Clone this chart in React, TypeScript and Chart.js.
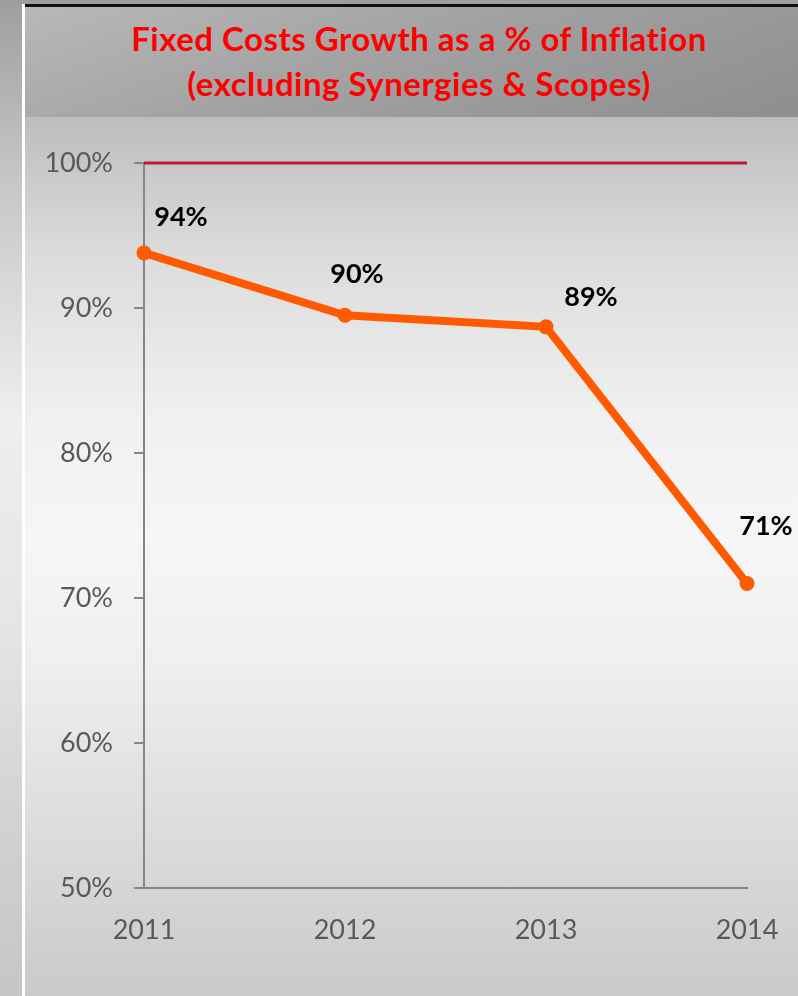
import React, { useEffect, useRef } from "react";
import { Chart, registerables } from "chart.js";

Chart.register(...registerables);

const titleLines = ["Fixed Costs Growth as a % of Inflation", "(excluding Synergies & Scopes)"];
const years = ["2011", "2012", "2013", "2014"];
const fixedCostsPct = [93.8, 89.5, 88.7, 71.0];
const inflationPct = [100, 100, 100, 100];
const pointLabels = ["94%", "90%", "89%", "71%"];
const labelOffsets = [
  [37, -36],
  [12, -41],
  [45, -30],
  [19, -57],
];
const yTicks = [50, 60, 70, 80, 90, 100];

const FONT = "Lato, 'Open Sans', sans-serif";

const pointLabelPlugin = {
  id: "pointLabels",
  afterDatasetsDraw(chart: any) {
    const meta = chart.getDatasetMeta(0);
    const ctx = chart.ctx;
    ctx.save();
    ctx.font = `bold 27px ${FONT}`;
    ctx.fillStyle = "#000000";
    ctx.textAlign = "center";
    ctx.textBaseline = "middle";
    meta.data.forEach((pt: any, i: number) => {
      const [dx, dy] = labelOffsets[i];
      ctx.fillText(pointLabels[i], pt.x + dx, pt.y + dy);
    });
    ctx.restore();
  },
};

export default function App() {
  const canvasRef = useRef<HTMLCanvasElement | null>(null);

  useEffect(() => {
    if (!canvasRef.current) return;
    const chart = new Chart(canvasRef.current, {
      type: "line",
      data: {
        labels: years,
        datasets: [
          {
            label: "Fixed Costs Growth",
            data: fixedCostsPct,
            borderColor: "#FF5A00",
            backgroundColor: "#FF5A00",
            borderWidth: 8,
            pointRadius: 7.5,
            pointBackgroundColor: "#FF5A00",
            pointBorderWidth: 0,
            tension: 0,
            clip: false as any,
            order: 1,
          },
          {
            label: "Inflation",
            data: inflationPct,
            borderColor: "#C8143C",
            borderWidth: 3,
            pointRadius: 0,
            tension: 0,
            clip: false as any,
            order: 2,
          },
        ],
      },
      options: {
        animation: false,
        responsive: false,
        maintainAspectRatio: false,
        layout: { padding: { top: 163, right: 51, left: 0, bottom: 0 } },
        plugins: {
          legend: { display: false },
          title: { display: false },
          tooltip: { enabled: false },
        },
        scales: {
          x: {
            type: "category",
            offset: false,
            grid: { display: false, drawTicks: false, tickLength: 0 },
            border: { display: true, color: "#868686", width: 2 },
            ticks: {
              color: "#595959",
              font: { family: FONT, size: 27 },
              padding: 26,
              maxRotation: 0,
              autoSkip: false,
            },
            afterFit: (scale: any) => {
              scale.height = 108;
              scale.paddingLeft = 0;
              scale.paddingRight = 0;
            },
          },
          y: {
            min: 50,
            max: 100,
            grid: {
              display: true,
              drawOnChartArea: false,
              drawTicks: true,
              tickLength: 10,
              color: "#868686",
              lineWidth: 2,
            },
            border: { display: true, color: "#868686", width: 2 },
            afterBuildTicks: (scale: any) => {
              scale.ticks = yTicks.map((v) => ({ value: v }));
            },
            ticks: {
              color: "#595959",
              font: { family: FONT, size: 27 },
              padding: 21,
              callback: (v: any) => `${v}%`,
            },
            afterFit: (scale: any) => {
              scale.width = 144;
              scale.paddingTop = 0;
              scale.paddingBottom = 0;
            },
          },
        },
      },
      plugins: [pointLabelPlugin],
    });
    return () => chart.destroy();
  }, []);

  return (
    <div
      style={{
        position: "fixed",
        left: 0,
        top: 0,
        width: 798,
        height: 996,
        overflow: "hidden",
        background:
          "linear-gradient(to bottom, #9e9e9e 0%, #c6c6c6 18%, #eeeeee 42%, #e6e6e6 62%, #d2d2d2 82%, #c6c6c6 100%)",
      }}
    >
      <div style={{ position: "absolute", left: 22, top: 4, width: 3, height: 992, background: "#ffffff" }} />
      <div
        style={{
          position: "absolute",
          left: 25,
          top: 4,
          width: 773,
          height: 110,
          borderTop: "3px solid #111",
          borderBottom: "3px solid #111",
          background: "linear-gradient(160deg, #b8b8b8 0%, #a2a2a2 45%, #8e8e8e 100%)",
        }}
      />
      <div
        style={{
          position: "absolute",
          left: 25,
          top: 117,
          width: 773,
          height: 879,
          background:
            "linear-gradient(to bottom, #bdbdbd 0%, #dcdcdc 16%, #f0f0f0 34%, #f6f6f6 48%, #efefef 62%, #dddddd 80%, #cacaca 100%)",
        }}
      />
      <div
        style={{
          position: "absolute",
          left: 0,
          top: 0,
          width: 838,
          textAlign: "center",
          fontFamily: FONT,
          fontWeight: 700,
          fontSize: 33,
          letterSpacing: "0.5px",
          color: "#FF0000",
          lineHeight: "45px",
          paddingTop: 16,
        }}
      >
        {titleLines.map((t, i) => (
          <div key={i}>{t}</div>
        ))}
      </div>
      <canvas
        ref={canvasRef}
        width={798}
        height={996}
        style={{ position: "absolute", left: 0, top: 0, width: 798, height: 996 }}
      />
    </div>
  );
}
